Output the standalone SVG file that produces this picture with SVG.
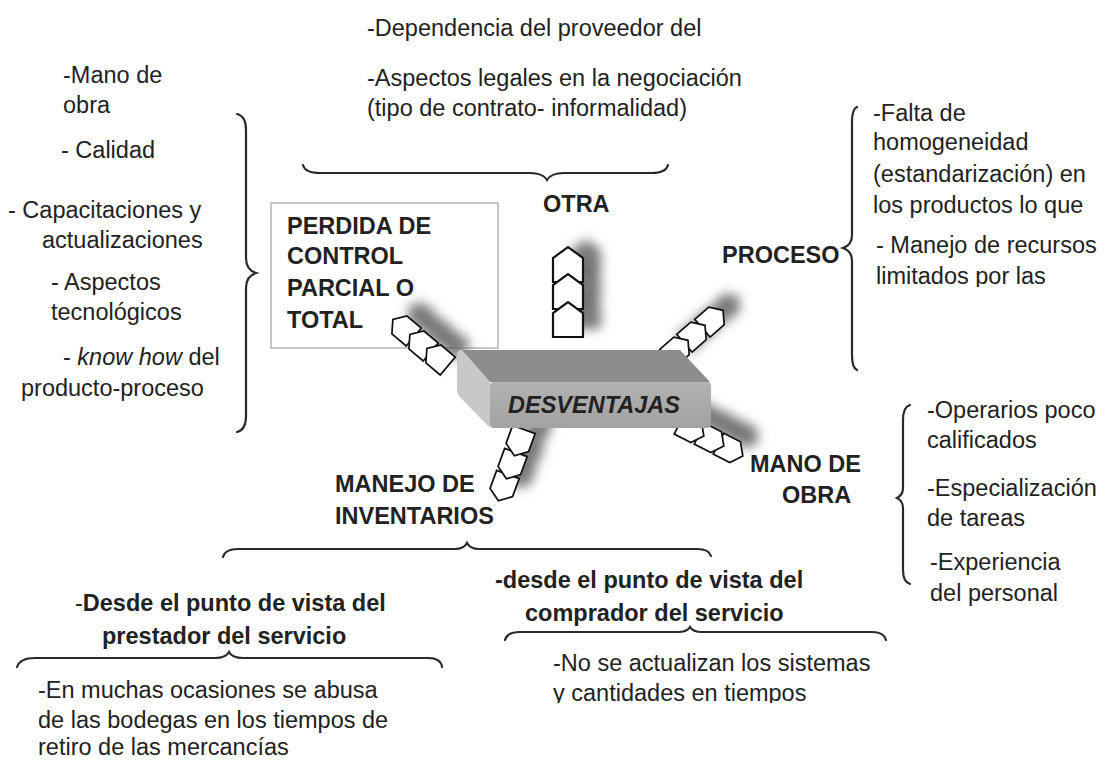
<svg xmlns="http://www.w3.org/2000/svg" xmlns:xlink="http://www.w3.org/1999/xlink" width="1107" height="760" viewBox="0 0 1107 760">
<style>
text{font-family:"Liberation Sans",Arial,sans-serif;font-size:23.5px;fill:#222}
.b{font-weight:bold}
.brace{fill:none;stroke:#2a2a2a;stroke-width:2.2;stroke-linecap:round}
.chev{fill:#fff;stroke:#111;stroke-width:2.2;stroke-linejoin:miter}
.shd{fill:#5a5a5a;opacity:0.8}
</style>
<defs>
<path id="chev" d="M-18,-15 L6,-15 L17,0 L6,15 L-18,15 Z"/>
<filter id="blur" x="-50%" y="-50%" width="200%" height="200%"><feGaussianBlur stdDeviation="5.5"/></filter>
<linearGradient id="front" x1="0" y1="0" x2="0" y2="1"><stop offset="0" stop-color="#b2b2b2"/><stop offset="1" stop-color="#a2a2a2"/></linearGradient>
<clipPath id="clipLim"><rect x="860" y="260" width="247" height="27"/></clipPath>
<clipPath id="clipCant"><rect x="540" y="680" width="400" height="23"/></clipPath>
</defs>
<rect width="1107" height="760" fill="#fff"/>

<g id="braces">
<path class="brace" d="M303,165 Q305,173 320,173 L530,173 Q543,173 547,180 Q551,173 564,173 L652,173 Q666,173 668,165"/>
<path class="brace" d="M237,114 Q246,116 246,130 L246,258 Q246,270 256,273 Q246,276 246,288 L246,416 Q246,430 237,432"/>
<path class="brace" d="M857,107 Q852,109 852,122 L852,235 Q852,245 843,248 Q852,251 852,261 L852,355 Q852,368 857,370"/>
<path class="brace" d="M910,405 Q903,407 903,420 L903,488 Q903,495 897,498 Q903,501 903,508 L903,570 Q903,582 910,584"/>
<path class="brace" d="M223,557 Q225,549 238,549 L455,549 Q464,549 467,543 Q470,549 479,549 L697,549 Q709,549 711,556"/>
<path class="brace" d="M17,667 Q20,658 35,658 L215,658 Q226,658 229,652 Q232,658 243,658 L428,658 Q441,658 442,667"/>
<path class="brace" d="M505,640 Q507,632 520,632 L678,632 Q687,632 690,627 Q693,632 702,632 L872,632 Q884,632 886,640"/>
</g>

<g id="node-perdida">
<rect x="271" y="203" width="227" height="145" fill="#fff" stroke="#aaa" stroke-width="1.3"/>
<text class="b" x="287" y="234">PERDIDA DE</text>
<text class="b" x="287" y="264">CONTROL</text>
<text class="b" x="287" y="296">PARCIAL O</text>
<text class="b" x="287" y="328">TOTAL</text>
</g>

<g id="connectors">
<g id="arrows-otra">
<g transform="translate(18,-8)" filter="url(#blur)">
<use href="#chev" class="shd" transform="translate(568,264) rotate(-90)"/>
<use href="#chev" class="shd" transform="translate(568,291) rotate(-90)"/>
<use href="#chev" class="shd" transform="translate(568,319) rotate(-90)"/>
</g>
<use href="#chev" class="chev" transform="translate(568,264) rotate(-90)"/>
<use href="#chev" class="chev" transform="translate(568,291) rotate(-90)"/>
<use href="#chev" class="chev" transform="translate(568,319) rotate(-90)"/>
</g>
<g id="arrows-perdida">
<g transform="translate(16,-14)" filter="url(#blur)">
<use href="#chev" class="shd" transform="translate(403,328) rotate(220) scale(0.78)"/>
<use href="#chev" class="shd" transform="translate(420,343) rotate(220) scale(0.78)"/>
<use href="#chev" class="shd" transform="translate(437,357) rotate(220) scale(0.78)"/>
</g>
<use href="#chev" class="chev" transform="translate(403,328) rotate(220) scale(0.78)"/>
<use href="#chev" class="chev" transform="translate(420,343) rotate(220) scale(0.78)"/>
<use href="#chev" class="chev" transform="translate(437,357) rotate(220) scale(0.78)"/>
</g>
<g id="arrows-proceso">
<g transform="translate(16,-14)" filter="url(#blur)">
<use href="#chev" class="shd" transform="translate(713,319) rotate(-41) scale(0.78)"/>
<use href="#chev" class="shd" transform="translate(695,334) rotate(-41) scale(0.78)"/>
<use href="#chev" class="shd" transform="translate(678,349) rotate(-41) scale(0.78)"/>
</g>
<use href="#chev" class="chev" transform="translate(713,319) rotate(-41) scale(0.78)"/>
<use href="#chev" class="chev" transform="translate(695,334) rotate(-41) scale(0.78)"/>
<use href="#chev" class="chev" transform="translate(678,349) rotate(-41) scale(0.78)"/>
</g>
<g id="arrows-mano">
<g transform="translate(16,-14)" filter="url(#blur)">
<use href="#chev" class="shd" transform="translate(731,450) rotate(27) scale(0.78)"/>
<use href="#chev" class="shd" transform="translate(712,440) rotate(27) scale(0.78)"/>
<use href="#chev" class="shd" transform="translate(692,430) rotate(27) scale(0.78)"/>
</g>
<use href="#chev" class="chev" transform="translate(731,450) rotate(27) scale(0.78)"/>
<use href="#chev" class="chev" transform="translate(712,440) rotate(27) scale(0.78)"/>
<use href="#chev" class="chev" transform="translate(692,430) rotate(27) scale(0.78)"/>
</g>
<g id="arrows-manejo">
<g transform="translate(18,-12)" filter="url(#blur)">
<use href="#chev" class="shd" transform="translate(503,488) rotate(110) scale(0.8)"/>
<use href="#chev" class="shd" transform="translate(511,466) rotate(110) scale(0.8)"/>
<use href="#chev" class="shd" transform="translate(519,443) rotate(110) scale(0.8)"/>
</g>
<use href="#chev" class="chev" transform="translate(503,488) rotate(110) scale(0.8)"/>
<use href="#chev" class="chev" transform="translate(511,466) rotate(110) scale(0.8)"/>
<use href="#chev" class="chev" transform="translate(519,443) rotate(110) scale(0.8)"/>
</g>
</g>

<g id="node-desventajas">
<path d="M457,354 Q457,350 462,350 L490,382 L490,428 L460,397 Q457,394 457,390 Z" fill="#c8c8c8"/>
<path d="M462,350 L680,350 L710,382 L490,382 Z" fill="#8d8d8d"/>
<rect x="490" y="382" width="221" height="46" rx="4" fill="url(#front)"/>
<text class="b" x="508" y="413" font-style="italic">DESVENTAJAS</text>
</g>

<g id="node-otra"><text class="b" x="543" y="212">OTRA</text></g>
<g id="node-proceso"><text class="b" x="722" y="263">PROCESO</text></g>
<g id="node-mano"><text class="b" x="750" y="472">MANO DE</text><text class="b" x="782" y="503">OBRA</text></g>
<g id="node-manejo"><text class="b" x="335" y="492">MANEJO DE</text><text class="b" x="335" y="524">INVENTARIOS</text></g>

<g id="text-otra">
<text x="367" y="36">-Dependencia del proveedor del</text>
<text x="367" y="86">-Aspectos legales en la negociación</text>
<text x="367" y="116">(tipo de contrato- informalidad)</text>
</g>

<g id="text-perdida">
<text x="63" y="83">-Mano de</text>
<text x="63" y="113">obra</text>
<text x="61" y="158">- Calidad</text>
<text x="8" y="218">- Capacitaciones y</text>
<text x="42" y="248">actualizaciones</text>
<text x="51" y="290">- Aspectos</text>
<text x="51" y="320">tecnológicos</text>
<text x="63" y="365">- <tspan font-style="italic">know how</tspan> del</text>
<text x="21" y="396">producto-proceso</text>
</g>

<g id="text-proceso">
<text x="873" y="121">-Falta de</text>
<text x="873" y="150">homogeneidad</text>
<text x="873" y="182">(estandarización) en</text>
<text x="873" y="213">los productos lo que</text>
<text x="876" y="253">- Manejo de recursos</text>
<text x="876" y="284" clip-path="url(#clipLim)">limitados por las</text>
</g>

<g id="text-mano">
<text x="927" y="418">-Operarios poco</text>
<text x="927" y="448">calificados</text>
<text x="927" y="496">-Especialización</text>
<text x="927" y="526">de tareas</text>
<text x="930" y="570">-Experiencia</text>
<text x="930" y="601">del personal</text>
</g>

<g id="text-manejo">
<text x="75" y="611">-<tspan class="b">Desde el punto de vista del</tspan></text>
<text class="b" x="102" y="644">prestador del servicio</text>
<text class="b" x="495" y="588">-desde el punto de vista del</text>
<text class="b" x="525" y="621">comprador del servicio</text>
<text x="553" y="671">-No se actualizan los sistemas</text>
<text x="553" y="701" clip-path="url(#clipCant)">y cantidades en tiempos</text>
<text x="38" y="698">-En muchas ocasiones se abusa</text>
<text x="38" y="728">de las bodegas en los tiempos de</text>
<text x="38" y="755">retiro de las mercancías</text>
</g>
</svg>
